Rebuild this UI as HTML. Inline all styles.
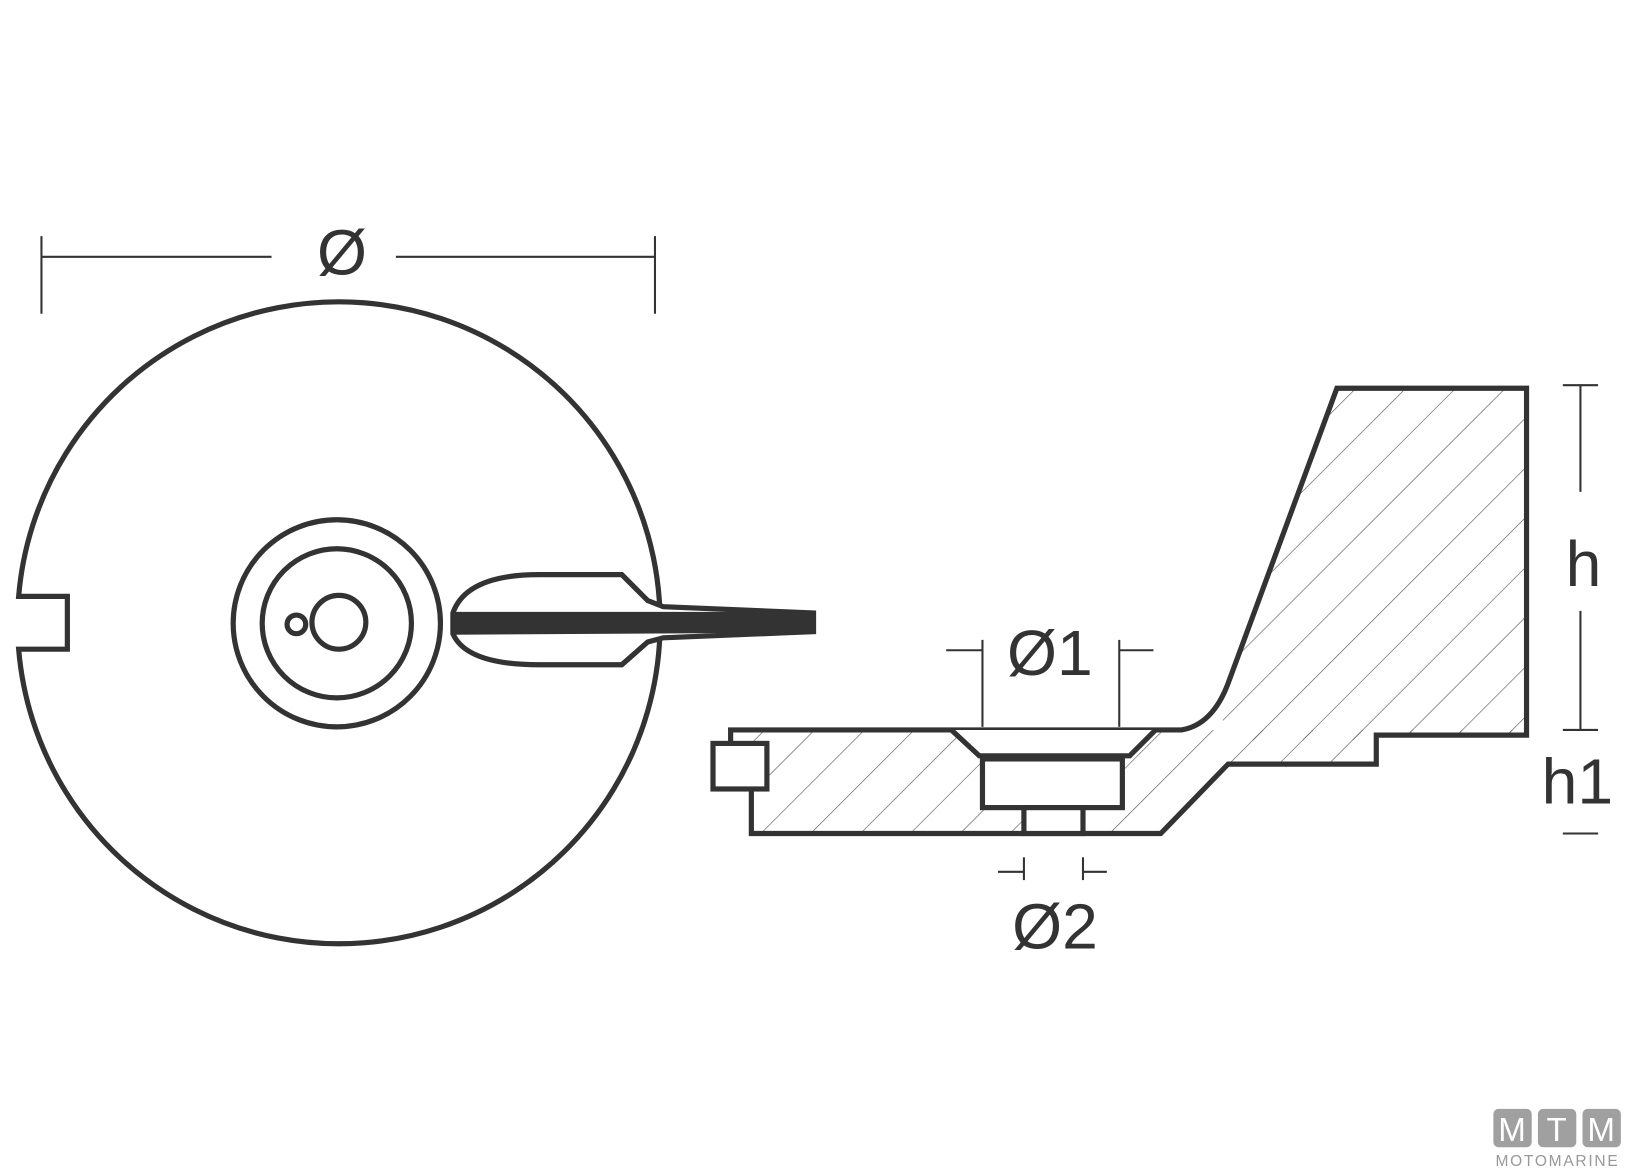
<!DOCTYPE html>
<html><head><style>html,body{margin:0;padding:0;background:#fff;}svg{display:block}</style></head>
<body>
<svg width="1625" height="1170" viewBox="0 0 1568 1130" preserveAspectRatio="none" xmlns="http://www.w3.org/2000/svg">
<defs>
<pattern id="h" patternUnits="userSpaceOnUse" width="34" height="34" patternTransform="rotate(45)">
<line x1="0" y1="0" x2="0" y2="34" stroke="#555" stroke-width="1.2"/>
</pattern>
<clipPath id="c"><path d="M725,705 L1140,705 Q1170,700 1185,660 L1290,375 L1473,375 L1473,710 L1328,710 L1328,738 L1185,738 L1120,805 L725,805 Z"/></clipPath>
</defs>
<g stroke="#333" fill="none" stroke-width="5">
<!-- left view -->
<path d="M18,576 A310,310 0 1 1 18,627 L65,627 L65,576 Z" fill="#fff"/>
<circle cx="325" cy="602" r="100"/>
<circle cx="325" cy="602" r="72"/>
<circle cx="327" cy="601" r="26"/>
<circle cx="286" cy="603" r="9"/>
<path d="M437,592 Q450,555 520,555 L600,555 L625,580 L640,586 L785,592 L785,610 L640,616 L625,620 L600,642 L520,642 Q450,642 437,612 Z" fill="#fff"/>
<path d="M437,592 L785,592 L785,610 L437,612 Z" fill="#333" stroke-width="2"/>
<line x1="445" y1="583" x2="720" y2="583" stroke="#fff" stroke-width="0"/>
</g>
<g stroke="#333" stroke-width="2" fill="none">
<line x1="40" y1="248" x2="262" y2="248"/><line x1="382" y1="248" x2="632" y2="248"/>
<line x1="40" y1="228" x2="40" y2="303"/><line x1="632" y1="228" x2="632" y2="303"/>
</g>
<!-- side view -->
<rect x="725" y="705" width="760" height="100" fill="url(#h)" clip-path="url(#c)"/>
<rect x="1180" y="375" width="300" height="340" fill="url(#h)" clip-path="url(#c)"/>
<g stroke="#333" stroke-width="5" fill="none">
<path d="M725,730 L725,805 L1120,805 L1185,738 L1328,738 L1328,710 L1473,710 L1473,375 L1290,375 L1185,660 Q1170,700 1140,705 L705,705 L705,718"/>
<rect x="688" y="718" width="52" height="44" fill="#fff"/>
<path d="M918,705 L945,730 L1090,730 L1115,705" fill="#fff"/>
<rect x="948" y="733" width="135" height="47" fill="#fff"/>
<rect x="988" y="780" width="57" height="25" fill="#fff"/>
</g>
<g stroke="#333" stroke-width="2" fill="none">
<line x1="948" y1="618" x2="948" y2="702"/><line x1="1080" y1="618" x2="1080" y2="702"/>
<line x1="913" y1="628" x2="948" y2="628"/><line x1="1080" y1="628" x2="1113" y2="628"/>
<line x1="988" y1="828" x2="988" y2="850"/><line x1="1045" y1="828" x2="1045" y2="850"/>
<line x1="963" y1="842" x2="988" y2="842"/><line x1="1045" y1="842" x2="1068" y2="842"/>
<line x1="1525" y1="372" x2="1525" y2="475"/><line x1="1525" y1="590" x2="1525" y2="705"/>
<line x1="1508" y1="372" x2="1542" y2="372"/><line x1="1508" y1="705" x2="1542" y2="705"/>
<line x1="1508" y1="805" x2="1542" y2="805"/>
</g>
<g font-family="Liberation Sans, sans-serif" fill="#333" text-anchor="middle" font-size="62">
<text x="330" y="265">Ø</text>
<text x="1013" y="652">Ø1</text>
<text x="1018" y="916">Ø2</text>
<text x="1528" y="566">h</text>
<text x="1522" y="776">h1</text>
</g>
<g fill="#a0a0a0">
<rect x="1441" y="1071" width="37" height="37" rx="5"/>
<rect x="1484" y="1071" width="37" height="37" rx="5"/>
<rect x="1527" y="1071" width="37" height="37" rx="5"/>
</g>
<g font-family="Liberation Sans, sans-serif" fill="#fff" text-anchor="middle" font-size="32">
<text x="1459" y="1102">M</text><text x="1502" y="1102">T</text><text x="1545" y="1102">M</text>
</g>
<text x="1502" y="1126" font-family="Liberation Sans, sans-serif" fill="#999" text-anchor="middle" font-size="15" textLength="118">MOTOMARINE</text>
</svg>
</body></html>
